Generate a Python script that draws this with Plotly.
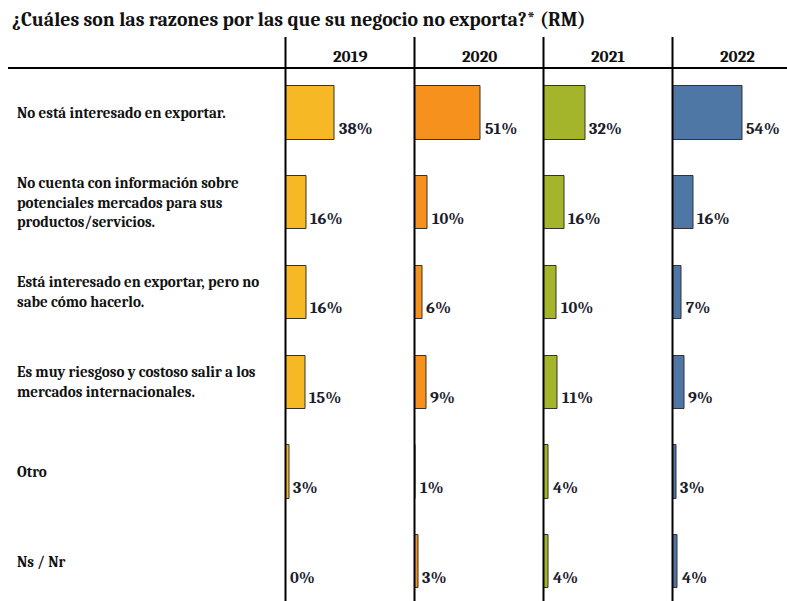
import plotly.graph_objects as go

title_text = "¿Cuáles son las razones por las que su negocio no exporta?* (RM)"
categories = [
    "No está interesado en exportar.",
    "No cuenta con información sobre<br>potenciales mercados para sus<br>productos/servicios.",
    "Está interesado en exportar, pero no<br>sabe cómo hacerlo.",
    "Es muy riesgoso y costoso salir a los<br>mercados internacionales.",
    "Otro",
    "Ns / Nr",
]
years = ["2019", "2020", "2021", "2022"]
values_2019 = [38, 16, 16, 15, 3, 0]
values_2020 = [51, 10, 6, 9, 1, 3]
values_2021 = [32, 16, 10, 11, 4, 4]
values_2022 = [54, 16, 7, 9, 3, 4]
series = [values_2019, values_2020, values_2021, values_2022]
colors = ["#F7B825", "#F7911D", "#A5B52B", "#4E77A6"]

W, H = 787, 601
FONT = "Cambria, Caladea, DejaVu Serif, serif"
col_left = [285.5, 414.5, 543.5, 672.5]
col_pitch = 129
px_per_pct = 1.3
plot_top = 68
row_pitch = 89.76

fig = go.Figure()
annotations = []
shapes = []
layout_axes = {}

for i, (yr, vals, col) in enumerate(zip(years, series, colors)):
    xa = "x" if i == 0 else f"x{i+1}"
    fig.add_trace(go.Bar(
        x=vals, y=categories, orientation="h", xaxis=xa, yaxis="y",
        marker=dict(color=col, line=dict(color="#333333", width=1)),
        width=0.594, showlegend=False, hoverinfo="skip",
    ))
    x0 = col_left[i] / W
    x1 = min((col_left[i] + 115) / W, 1.0)
    key = "xaxis" if i == 0 else f"xaxis{i+1}"
    layout_axes[key] = dict(domain=[x0, x1], range=[0, 115 / px_per_pct],
                            visible=False, fixedrange=True, anchor="y")
    for c, v in zip(categories, vals):
        annotations.append(dict(
            x=v, y=c, xref=xa, yref="y", text=f"<b>{v}%</b>", showarrow=False,
            xanchor="left", yanchor="middle", xshift=2, yshift=-15.5,
            font=dict(family=FONT, size=16.5, color="#1c1c2c"),
        ))
    # header year
    annotations.append(dict(
        x=(col_left[i] + col_pitch / 2) / W, y=(H - 56) / (H - plot_top),
        xref="paper", yref="paper", text=f"<b>{yr}</b>", showarrow=False,
        xanchor="center", yanchor="middle",
        font=dict(family=FONT, size=17, color="#111111"),
    ))
    shapes.append(dict(type="line", xref="paper", yref="paper",
                       x0=col_left[i] / W, x1=col_left[i] / W,
                       y0=0, y1=(H - 37) / (H - plot_top),
                       line=dict(color="#000000", width=2)))

shapes.append(dict(type="line", xref="paper", yref="paper",
                   x0=8 / W, x1=1, y0=1, y1=1,
                   line=dict(color="#000000", width=2)))

for c in categories:
    annotations.append(dict(
        x=15 / W, y=c, xref="paper", yref="y", text=f"<b>{c}</b>",
        showarrow=False, xanchor="left", yanchor="middle", align="left",
        font=dict(family=FONT, size=15, color="#111111"),
    ))

plot_h = H - plot_top
fig.update_layout(
    width=W, height=H,
    margin=dict(l=0, r=0, t=plot_top, b=0),
    paper_bgcolor="white", plot_bgcolor="white",
    title=dict(text=f"<b>{title_text}</b>", x=12 / W, xanchor="left",
               y=1 - 19 / H, yanchor="middle",
               font=dict(family=FONT, size=19.8, color="#111111")),
    yaxis=dict(domain=[0, 1], range=[-0.5 + plot_h / row_pitch, -0.5],
               visible=False, fixedrange=True, type="category",
               categoryorder="array", categoryarray=categories),
    annotations=annotations, shapes=shapes,
    bargap=0,
    **layout_axes,
)

fig.write_html("out.html", config={"displayModeBar": False},
               post_script="document.body.style.margin='0';document.body.style.overflow='hidden';")
